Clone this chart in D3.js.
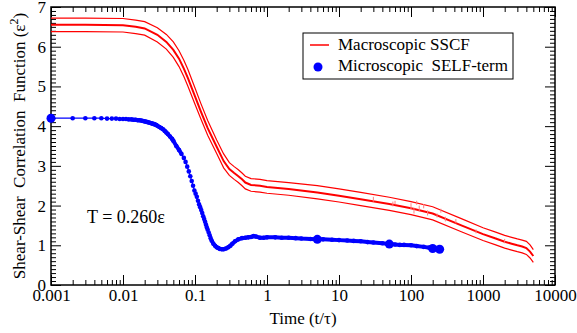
<!DOCTYPE html>
<html>
<head>
<meta charset="utf-8">
<script src="https://cdn.jsdelivr.net/npm/d3@7"></script>
<style>
  body { margin: 0; background: #fff; }
  svg { display: block; font-family: "Liberation Serif", "Times New Roman", serif; }
</style>
</head>
<body>
<div id="chart"></div>
<script>
// ---- data ----
const xTicks = [0.001, 0.01, 0.1, 1, 10, 100, 1000, 10000];
const xTickLabels = ["0.001", "0.01", "0.1", "1", "10", "100", "1000", "10000"];
const yTicks = [0, 1, 2, 3, 4, 5, 6, 7];

// Macroscopic SSCF: mean curve and the two bounding curves
const redT = [0.001, 0.003, 0.01, 0.015, 0.02, 0.03, 0.04, 0.05, 0.06, 0.07, 0.08, 0.1, 0.12, 0.15, 0.2, 0.25, 0.3, 0.35, 0.4, 0.45, 0.5, 0.6, 0.8, 1, 2, 5, 10, 20, 50, 100, 200, 500, 1000, 1500, 2000, 2500, 3000, 3500, 4000, 4500, 5000];
const redMid = [6.55, 6.55, 6.54, 6.50, 6.46, 6.30, 6.12, 5.92, 5.70, 5.45, 5.20, 4.75, 4.38, 3.95, 3.48, 3.12, 2.92, 2.82, 2.74, 2.66, 2.58, 2.52, 2.50, 2.47, 2.42, 2.33, 2.25, 2.16, 2.04, 1.93, 1.80, 1.50, 1.28, 1.17, 1.09, 1.04, 1.00, 0.97, 0.93, 0.84, 0.73];
const redHigh = [6.72, 6.72, 6.71, 6.67, 6.63, 6.48, 6.31, 6.12, 5.90, 5.66, 5.42, 4.96, 4.58, 4.14, 3.65, 3.30, 3.08, 2.98, 2.90, 2.82, 2.74, 2.68, 2.66, 2.63, 2.58, 2.50, 2.42, 2.33, 2.21, 2.10, 1.97, 1.67, 1.44, 1.33, 1.25, 1.20, 1.16, 1.13, 1.10, 1.01, 0.89];
const redLow = [6.38, 6.38, 6.37, 6.33, 6.29, 6.12, 5.94, 5.73, 5.50, 5.25, 5.00, 4.55, 4.19, 3.77, 3.31, 2.95, 2.76, 2.66, 2.58, 2.50, 2.42, 2.36, 2.34, 2.31, 2.26, 2.17, 2.09, 2.00, 1.88, 1.77, 1.64, 1.34, 1.12, 1.01, 0.93, 0.88, 0.84, 0.81, 0.77, 0.68, 0.57];

// faint noise spikes on the red curves: time, base value, top value
const spikeT = [30, 56, 60, 100, 110, 120, 130, 150, 170, 230, 260, 300, 420, 800, 2000];
const spikeLo = [2.10, 1.98, 2.03, 1.90, 1.80, 2.02, 1.85, 1.93, 1.75, 1.70, 1.82, 1.60, 1.55, 1.30, 1.05];
const spikeHi = [2.22, 2.10, 2.12, 2.06, 1.95, 2.12, 2.00, 2.04, 1.88, 1.80, 1.92, 1.72, 1.66, 1.40, 1.16];

// Microscopic SELF-term
const blueT = [0.001, 0.002, 0.003, 0.004, 0.005, 0.006, 0.007, 0.008, 0.009, 0.01,
  0.011, 0.012, 0.013, 0.014, 0.015, 0.016, 0.017, 0.018, 0.019, 0.02,
  0.021, 0.022, 0.023, 0.024, 0.025, 0.026, 0.027, 0.028, 0.029, 0.03,
  0.032, 0.034, 0.036, 0.038, 0.04, 0.042, 0.045, 0.048, 0.05, 0.055,
  0.06, 0.065, 0.07, 0.074, 0.078, 0.082, 0.086, 0.09, 0.094, 0.098,
  0.102, 0.106, 0.11, 0.114, 0.118, 0.122, 0.126, 0.13, 0.134, 0.138,
  0.142, 0.146, 0.15, 0.155, 0.16, 0.165, 0.17, 0.18, 0.19, 0.2,
  0.21, 0.22, 0.235, 0.25, 0.27, 0.29, 0.31, 0.33, 0.36, 0.4,
  0.45, 0.5, 0.55, 0.6, 0.65, 0.7, 0.8, 0.9, 1, 1.3,
  1.6, 2, 2.5, 3, 4, 5, 6, 8, 10, 13,
  16, 20, 25, 30, 40, 50, 60, 70, 80, 100,
  120, 150, 180, 200, 225, 250];
const blueV = [4.20, 4.20, 4.20, 4.20, 4.20, 4.19, 4.19, 4.19, 4.18, 4.18,
  4.18, 4.17, 4.17, 4.16, 4.16, 4.15, 4.15, 4.14, 4.13, 4.12,
  4.11, 4.10, 4.09, 4.08, 4.07, 4.06, 4.05, 4.04, 4.03, 4.01,
  3.98, 3.95, 3.92, 3.88, 3.84, 3.80, 3.74, 3.68, 3.63, 3.50,
  3.40, 3.30, 3.20, 3.10, 2.98, 2.86, 2.74, 2.62, 2.50, 2.38,
  2.30, 2.22, 2.12, 2.03, 1.96, 1.89, 1.81, 1.73, 1.66, 1.59,
  1.52, 1.45, 1.39, 1.32, 1.25, 1.18, 1.12, 1.04, 0.99, 0.95,
  0.93, 0.91, 0.90, 0.90, 0.92, 0.95, 0.99, 1.04, 1.10, 1.15,
  1.18, 1.19, 1.20, 1.21, 1.23, 1.22, 1.19, 1.19, 1.20, 1.20,
  1.19, 1.19, 1.18, 1.17, 1.16, 1.15, 1.15, 1.14, 1.13, 1.12,
  1.11, 1.10, 1.08, 1.07, 1.05, 1.03, 1.02, 1.01, 1.01, 1.00,
  0.98, 0.96, 0.94, 0.92, 0.91, 0.90];
// times that carry the big symbols
const blueBigT = [0.001, 5, 50, 200, 250];

const legendLabels = ["Macroscopic SSCF", "Microscopic  SELF-term"];

// ---- layout ----
const width = 577, height = 333;
const plotLeft = 51, plotRight = 555, plotTop = 7, plotBottom = 285;
const serif = "'Liberation Serif', 'Times New Roman', serif";

const svg = d3.select("#chart").append("svg")
  .attr("width", width)
  .attr("height", height);

const x = d3.scaleLog().domain([0.001, 10000]).range([plotLeft, plotRight]);
const y = d3.scaleLinear().domain([0, 7]).range([plotBottom, plotTop]);

// minor tick positions
const xMinor = [];
xTicks.slice(0, -1).forEach(d => { for (let k = 2; k <= 9; k++) xMinor.push(d * k); });
const yMinor = d3.range(0, 70).map(i => i / 10).filter((d, i) => i % 10 !== 0);

function styleAxis(g) {
  g.attr("font-family", serif).attr("font-size", 17);
  g.select(".domain").remove();
  g.selectAll("line").attr("stroke", "#000").attr("stroke-width", 1);
  g.selectAll("text").attr("fill", "#000");
}

// bottom
svg.append("g").attr("transform", `translate(0,${plotBottom})`)
  .call(d3.axisBottom(x).tickValues(xMinor).tickSize(-5).tickFormat(""))
  .call(styleAxis);
svg.append("g").attr("transform", `translate(0,${plotBottom})`)
  .call(d3.axisBottom(x).tickValues(xTicks).tickSize(-10).tickPadding(4)
    .tickFormat((d, i) => xTickLabels[i]))
  .call(styleAxis);
// top
svg.append("g").attr("transform", `translate(0,${plotTop})`)
  .call(d3.axisTop(x).tickValues(xMinor).tickSize(-5).tickFormat(""))
  .call(styleAxis);
svg.append("g").attr("transform", `translate(0,${plotTop})`)
  .call(d3.axisTop(x).tickValues(xTicks).tickSize(-10).tickFormat(""))
  .call(styleAxis);
// left
svg.append("g").attr("transform", `translate(${plotLeft},0)`)
  .call(d3.axisLeft(y).tickValues(yMinor).tickSize(-5).tickFormat(""))
  .call(styleAxis);
svg.append("g").attr("transform", `translate(${plotLeft},0)`)
  .call(d3.axisLeft(y).tickValues(yTicks).tickSize(-10).tickPadding(5).tickFormat(d3.format("d")))
  .call(styleAxis);
// right
svg.append("g").attr("transform", `translate(${plotRight},0)`)
  .call(d3.axisRight(y).tickValues(yMinor).tickSize(-5).tickFormat(""))
  .call(styleAxis);
svg.append("g").attr("transform", `translate(${plotRight},0)`)
  .call(d3.axisRight(y).tickValues(yTicks).tickSize(-10).tickFormat(""))
  .call(styleAxis);

svg.append("rect")
  .attr("x", plotLeft).attr("y", plotTop)
  .attr("width", plotRight - plotLeft).attr("height", plotBottom - plotTop)
  .attr("fill", "none").attr("stroke", "#000").attr("stroke-width", 1.5);

// ---- red curves ----
const redLine = d3.line().x(d => x(d[0])).y(d => y(d[1]));
const redSets = [
  { v: redHigh, w: 1.2 },
  { v: redMid, w: 2 },
  { v: redLow, w: 1.2 }
];
redSets.forEach(s => {
  svg.append("path")
    .datum(redT.map((t, i) => [t, s.v[i]]))
    .attr("d", redLine)
    .attr("fill", "none")
    .attr("stroke", "#ff0000")
    .attr("stroke-width", s.w);
});

svg.append("g").selectAll("line")
  .data(spikeT.map((t, i) => [t, spikeLo[i], spikeHi[i]]))
  .enter().append("line")
  .attr("x1", d => x(d[0])).attr("x2", d => x(d[0]))
  .attr("y1", d => y(d[1])).attr("y2", d => y(d[2]))
  .attr("stroke", "#ff8080").attr("stroke-width", 1);

// ---- blue curve ----
const blue = blueT.map((t, i) => [t, blueV[i]]);
const blueLine = d3.line().x(d => x(d[0])).y(d => y(d[1]));

svg.append("path")
  .datum(blue)
  .attr("d", blueLine)
  .attr("fill", "none")
  .attr("stroke", "#0000ff")
  .attr("stroke-width", 1.2);

// the dense parts look like a solid band of overlapping symbols
svg.append("path")
  .datum(blue.filter(d => d[0] >= 0.17))
  .attr("d", blueLine)
  .attr("fill", "none")
  .attr("stroke", "#0000ff")
  .attr("stroke-width", 4);
svg.append("path")
  .datum(blue.filter(d => d[0] > 0.012 && d[0] < 0.07))
  .attr("d", blueLine)
  .attr("fill", "none")
  .attr("stroke", "#0000ff")
  .attr("stroke-width", 4);

svg.append("g").selectAll("circle")
  .data(blue)
  .enter().append("circle")
  .attr("cx", d => x(d[0]))
  .attr("cy", d => y(d[1]))
  .attr("r", 2.3)
  .attr("fill", "#0000ff");

svg.append("g").selectAll("circle")
  .data(blue.filter(d => blueBigT.includes(d[0])))
  .enter().append("circle")
  .attr("cx", d => x(d[0]))
  .attr("cy", d => y(d[1]))
  .attr("r", 4.5)
  .attr("fill", "#0000ff");

// ---- legend ----
const lg = svg.append("g");
lg.append("rect")
  .attr("x", 303).attr("y", 33).attr("width", 210).attr("height", 46)
  .attr("fill", "#fff").attr("stroke", "#000").attr("stroke-width", 1);
lg.append("line")
  .attr("x1", 310).attr("x2", 329).attr("y1", 45).attr("y2", 45)
  .attr("stroke", "#ff0000").attr("stroke-width", 1.5);
lg.append("circle").attr("cx", 318).attr("cy", 67).attr("r", 4.5).attr("fill", "#0000ff");
lg.selectAll("text")
  .data(legendLabels)
  .enter().append("text")
  .attr("x", 338)
  .attr("y", (d, i) => 50 + i * 21)
  .style("font-size", "17px")
  .style("white-space", "pre")
  .text(d => d);

// ---- annotations & titles ----
svg.append("text")
  .attr("x", 87).attr("y", 223)
  .style("font-size", "18px")
  .text("T = 0.260ε");

svg.append("text")
  .attr("x", (plotLeft + plotRight) / 2).attr("y", 324)
  .attr("text-anchor", "middle")
  .style("font-size", "17px")
  .text("Time (t/τ)");

const yt = svg.append("text")
  .attr("transform", `translate(25,${(plotTop + plotBottom) / 2}) rotate(-90)`)
  .attr("text-anchor", "middle")
  .style("font-size", "17px")
  .style("white-space", "pre");
yt.append("tspan").text("Shear-Shear  Correlation  Function (ε");
yt.append("tspan").attr("dy", -7).style("font-size", "12px").text("2");
yt.append("tspan").attr("dy", 7).text(")");
</script>
</body>
</html>
